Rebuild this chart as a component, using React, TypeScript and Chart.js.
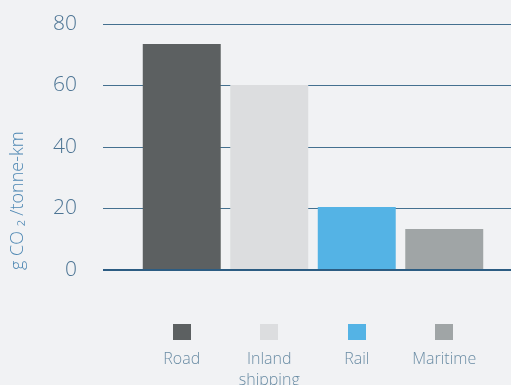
import { useEffect, useRef } from 'react';
import { Chart, registerables } from 'chart.js';

Chart.register(...registerables);

const categories: (string | string[])[] = ['Road', ['Inland', 'shipping'], 'Rail', 'Maritime'];
const emissions = [73.5, 60.2, 20.5, 13.3];
const barColors = ['#5c6061', '#dcdddf', '#54b3e5', '#a0a5a6'];
const yMin = 0;
const yMax = 80;
const yStep = 20;
const yTitle = 'g CO ₂ /tonne-km';

const FONT = "'Open Sans', 'Noto Sans', sans-serif";
const gridColor = (ctx: any) => (ctx.tick && ctx.tick.value === 0 ? '#2c5c82' : '#44708f');
const gridWidth = (ctx: any) => (ctx.tick && ctx.tick.value === 0 ? 2 : 1);

const legendSquares = {
  id: 'legendSquares',
  afterDraw(chart: any) {
    const { ctx, scales, chartArea } = chart;
    const x = scales.x;
    ctx.save();
    categories.forEach((_, i) => {
      const px = x.getPixelForValue(i);
      ctx.fillStyle = barColors[i];
      ctx.fillRect(Math.round(px - 9), chartArea.bottom + 54, 18, 16);
    });
    ctx.restore();
  },
};

const noPad = (s: any) => {
  s.paddingLeft = 0;
  s.paddingRight = 0;
  s.paddingTop = 0;
  s.paddingBottom = 0;
};

export default function App() {
  const ref = useRef<HTMLCanvasElement>(null);
  useEffect(() => {
    document.body.style.margin = '0';
    document.body.style.background = '#f1f2f4';
    document.body.style.overflow = 'hidden';
    const chart = new Chart(ref.current!, {
      type: 'bar',
      data: {
        labels: categories as any,
        datasets: [
          {
            data: emissions,
            backgroundColor: barColors,
            borderWidth: 0,
            categoryPercentage: 1,
            barPercentage: 0.891,
          },
        ],
      },
      options: {
        animation: false,
        responsive: false,
        maintainAspectRatio: false,
        layout: { padding: { top: 24, left: 0, right: 0, bottom: 0 } },
        plugins: { legend: { display: false }, tooltip: { enabled: false } },
        scales: {
          x: {
            grid: { display: false, drawTicks: false },
            border: { display: false },
            ticks: {
              padding: 79,
              color: '#6a8ca4',
              font: { family: FONT, size: 16, weight: 300 as any, lineHeight: 1.3 },
              maxRotation: 0,
              autoSkip: false,
            },
            afterFit: (s: any) => {
              s.height = 115;
              noPad(s);
            },
          },
          y: {
            min: yMin,
            max: yMax,
            ticks: {
              stepSize: yStep,
              padding: 26,
              color: '#4d7594',
              font: { family: FONT, size: 21, weight: 300 as any },
            },
            grid: {
              color: gridColor,
              tickColor: gridColor,
              lineWidth: gridWidth,
              drawTicks: true,
              tickLength: 35,
            },
            border: { display: false },
            title: {
              display: true,
              text: yTitle,
              align: 'start',
              color: '#4f88b3',
              padding: { top: 7, bottom: 0 },
              font: { family: FONT, size: 18, weight: 300 as any },
            },
            afterFit: (s: any) => {
              s.width = 138;
              noPad(s);
            },
          },
          y2: {
            position: 'right',
            min: yMin,
            max: yMax,
            ticks: { stepSize: yStep, display: false },
            grid: {
              drawOnChartArea: false,
              drawTicks: true,
              tickLength: 23,
              color: gridColor,
              tickColor: gridColor,
              lineWidth: gridWidth,
            },
            border: { display: false },
            afterFit: (s: any) => {
              s.width = 23;
              noPad(s);
            },
          },
        },
      },
      plugins: [legendSquares],
    });
    return () => chart.destroy();
  }, []);
  return (
    <div style={{ width: 511, height: 385, background: '#f1f2f4' }}>
      <canvas ref={ref} width={511} height={385} style={{ display: 'block' }} />
    </div>
  );
}
